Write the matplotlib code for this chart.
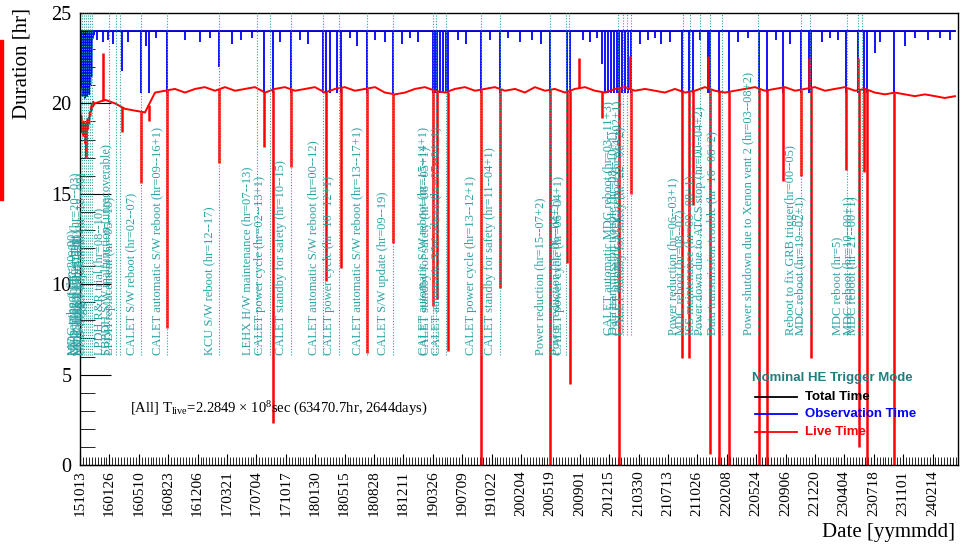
import datetime

import matplotlib.pyplot as plt
import numpy as np
from matplotlib.lines import Line2D
from matplotlib.patches import Rectangle
from matplotlib.transforms import offset_copy

plt.rcParams["font.family"] = "Liberation Serif"
plt.rcParams["mathtext.fontset"] = "custom"
plt.rcParams["mathtext.rm"] = "Liberation Serif"
plt.rcParams["mathtext.it"] = "Liberation Serif:italic"

TICK_STEP = 105  # days between date labels
LAST_DAY = 3125

tick_labels = ["151013", "160126", "160510", "160823", "161206", "170321",
               "170704", "171017", "180130", "180515", "180828", "181211",
               "190326", "190709", "191022", "200204", "200519", "200901",
               "201215", "210330", "210713", "211026", "220208", "220524",
               "220906", "221220", "230404", "230718", "231101", "240214"]

# commissioning period (day offsets from 151013)
init_days = [0, 1, 3, 5, 7, 9, 11, 13, 15, 17, 19, 21, 23, 25, 27, 29, 31, 33,
             35, 37, 39, 41, 43, 45, 47, 49, 51, 53]
init_total = [24, 24, 24, 21.0, 24, 20.8, 24, 21.2, 24, 20.6, 24, 21.0, 24,
              20.7, 24, 21.3, 24, 20.9, 24, 21.5, 24, 24, 24, 24, 24, 24, 24, 24]
init_obs = [24, 21.2, 24, 21.0, 23.8, 20.4, 23.9, 20.6, 23.7, 20.3, 23.6, 20.5,
            23.8, 20.4, 23.9, 20.6, 24, 20.5, 23.8, 21.0, 23.9, 21.5, 24, 23.6,
            24, 23.8, 24, 24]
init_live = [22.7, 19.8, 18.6, 19.3, 18.4, 18.9, 18.2, 19.0, 18.5, 18.8, 17.8,
             18.9, 17.0, 18.7, 19.1, 18.6, 19.2, 18.9, 19.5, 19.3, 19.8, 19.6,
             20.0, 19.8, 20.1, 19.9, 20.0, 20.0]

# live time baseline after commissioning
live_days = [54, 89, 125, 161, 196, 232, 268, 304, 339, 375, 411, 446, 482,
             518, 554, 589, 625, 661, 696, 732, 768, 804, 839, 875, 911, 946,
             982, 1018, 1054, 1089, 1125, 1161, 1196, 1232, 1268, 1304, 1339,
             1375, 1411, 1446, 1482, 1518, 1554, 1589, 1625, 1661, 1696, 1732,
             1768, 1804, 1839, 1875, 1911, 1946, 1982, 2018, 2054, 2089, 2125,
             2161, 2196, 2232, 2268, 2304, 2339, 2375, 2411, 2446, 2482, 2518,
             2554, 2589, 2625, 2661, 2696, 2732, 2768, 2804, 2839, 2875, 2911,
             2946, 2982, 3018, 3054, 3089, 3125]
live_base = [20.0, 20.2, 20.0, 19.7, 19.6, 19.5, 20.6, 20.7, 20.8, 20.6, 20.8,
             20.9, 20.7, 20.9, 20.7, 20.8, 20.9, 20.6, 20.8, 20.9, 20.7, 20.8,
             20.9, 20.6, 20.8, 20.9, 20.7, 20.8, 20.9, 20.6, 20.5, 20.6, 20.8,
             20.9, 20.7, 20.6, 20.8, 20.9, 20.7, 20.8, 20.9, 20.7, 20.8, 20.6,
             20.9, 20.7, 20.8, 20.6, 20.8, 20.9, 20.7, 20.6, 20.8, 20.9, 20.7,
             20.8, 20.7, 20.6, 20.8, 20.6, 20.7, 20.9, 20.7, 20.6, 20.7, 20.8,
             20.9, 20.7, 20.8, 20.9, 20.7, 20.8, 20.9, 20.7, 20.8, 20.9, 20.7,
             20.8, 20.6, 20.5, 20.6, 20.5, 20.4, 20.5, 20.4, 20.3, 20.4]

# single-day excursions of live time
live_dip_days = [82, 150, 218, 246, 311, 496, 657, 689, 754, 879, 932, 1025,
                 1118, 1261, 1275, 1314, 1432, 1500, 1679, 1739, 1750, 1782,
                 1864, 1925, 1964, 1968, 2150, 2175, 2189, 2243, 2250, 2282,
                 2318, 2425, 2454, 2511, 2575, 2604, 2611, 2736, 2779, 2782,
                 2800, 2811, 2907]
live_dip_vals = [22.8, 18.4, 15.6, 19.0, 7.6, 16.7, 17.6, 2.3, 16.5, 10.2,
                 10.9, 6.2, 12.3, 8.8, 9.2, 6.3, 0.0, 9.8, 0.0, 11.2, 4.5, 22.5,
                 19.2, 0.0, 22.6, 15.0, 5.9, 5.9, 14.4, 22.6, 0.6, 0.0, 0.0,
                 0.0, 0.0, 15.7, 16.0, 22.5, 5.9, 16.3, 22.5, 1.0, 16.2, 0.0,
                 0.0]

# single-day drops of observation time
obs_dip_days = [61, 82, 100, 118, 150, 171, 218, 236, 246, 271, 311, 375, 429,
                464, 496, 543, 575, 614, 657, 689, 714, 754, 786, 814, 868, 879,
                893, 918, 932, 964, 989, 1025, 1054, 1089, 1118, 1150, 1179,
                1207, 1261, 1268, 1275, 1286, 1296, 1307, 1314, 1350, 1379,
                1432, 1464, 1500, 1529, 1571, 1614, 1646, 1679, 1739, 1750,
                1796, 1821, 1846, 1864, 1875, 1886, 1896, 1907, 1918, 1925,
                1936, 1946, 1957, 1968, 2000, 2029, 2054, 2075, 2107, 2150,
                2175, 2189, 2214, 2243, 2250, 2282, 2318, 2350, 2386, 2425,
                2454, 2486, 2511, 2536, 2575, 2604, 2611, 2650, 2679, 2707,
                2736, 2779, 2800, 2811, 2839, 2857, 2907, 2946, 2982, 3029,
                3071, 3107]
obs_dip_vals = [23.5, 23.4, 23.5, 23.3, 21.8, 23.4, 20.6, 23.2, 20.6, 23.6,
                20.6, 23.5, 23.4, 23.6, 22.0, 23.3, 23.5, 23.6, 20.6, 20.6,
                23.4, 20.6, 23.5, 23.3, 20.6, 20.6, 20.6, 20.6, 20.6, 23.6,
                23.2, 20.6, 23.5, 23.4, 20.6, 23.3, 23.6, 23.4, 20.6, 20.6,
                20.6, 20.6, 20.6, 20.6, 20.6, 23.5, 23.3, 20.6, 23.5, 20.6,
                23.6, 23.4, 23.5, 23.3, 20.6, 20.6, 20.6, 23.5, 23.4, 23.6,
                22.2, 20.6, 20.6, 20.6, 20.6, 20.6, 20.6, 20.6, 20.6, 20.6,
                20.6, 23.3, 23.5, 23.6, 23.3, 23.4, 20.6, 20.6, 20.6, 23.5,
                20.6, 20.6, 20.6, 20.6, 23.4, 23.6, 20.6, 20.6, 23.5, 20.6,
                23.3, 20.6, 20.6, 20.6, 23.4, 23.6, 23.5, 20.6, 20.6, 20.6,
                20.6, 22.8, 23.4, 20.6, 23.2, 23.6, 23.5, 23.6, 23.5]

# operation log
event_days = [7, 14, 21, 29, 36, 43, 104, 129, 143, 218, 311, 496, 632, 679,
              754, 868, 925, 1025, 1118, 1261, 1271, 1307, 1432, 1500, 1679,
              1736, 1746, 1921, 1939, 1954, 1968, 2154, 2179, 2214, 2250, 2293,
              2421, 2575, 2607, 2739, 2779, 2793]
event_labels = [
    "MDC reboot (hr=20--00)",
    "HV setting (hr=22--00)",
    "CHD trigger adjustment (hr=20--03)",
    "MDC reboot (hr=21--00)",
    "HV setting (hr=20--03)",
    "CHD trigger adjustment (hr=18--00)",
    "LPDH R&R trial (hr=08--10)",
    "SBPDH S/W malfunction (unrecoverable)",
    "LPDH replacement (hr=05--10)",
    "CALET S/W reboot (hr=02--07)",
    "CALET automatic S/W reboot (hr=09--16+1)",
    "KCU S/W reboot (hr=12--17)",
    "LEHX H/W maintenance (hr=07--13)",
    "CALET power cycle (hr=02--13+1)",
    "CALET standby for safety (hr=10--15)",
    "CALET automatic S/W reboot (hr=00--12)",
    "CALET power cycle (hr=10--12+1)",
    "CALET automatic S/W reboot (hr=13--17+1)",
    "CALET S/W update (hr=09--19)",
    "CALET automatic S/W reboot (hr=15--14+1)",
    "CALET standby for safety (hr=08--05+1)",
    "CALET automatic S/W reboot (hr=07--04+1)",
    "CALET power cycle (hr=13--12+1)",
    "CALET standby for safety (hr=11--04+1)",
    "Power reduction (hr=15--07+2)",
    "Power reduction (hr=06--04+1)",
    "CALET power cycle (hr=06--04+1)",
    "CALET automatic MDC reboot (hr=03--11+3)",
    "Data transmission trouble (hr=08--10+1)",
    "CALET automatic MDC reboot (hr=14--02+1)",
    "CALET standby for safety (hr=22--06+2)",
    "Power reduction (hr=06--03+1)",
    "MDC reboot (hr=08--07)",
    "ISS maintenance (hr=00--08+1)",
    "Power down due to ATCS stop (hr=00--04+2)",
    "Data transmission trouble (hr=16--06+2)",
    "Power shutdown due to Xenon vent 2 (hr=03--08+2)",
    "Reboot to fix GRB trigger(hr=00--05)",
    "MDC reboot (hr=19--02+1)",
    "MDC reboot (hr=5)",
    "MDC reboot (hr=10--00+1)",
    "MDC reboot (hr=21--00+1)",
]

TEAL = "#2aa3a3"

fig = plt.figure(figsize=(9.61, 5.48), dpi=100)
ax = fig.add_axes([80 / 961, 83 / 548, 878 / 961, 452 / 548])

# total time (black), observation time (blue), live time (red)
ax.plot(init_days + [54, LAST_DAY], init_total + [24, 24], color="black", lw=1.2)
ax.plot(init_days + [54, LAST_DAY], init_obs + [24, 24], color="blue", lw=1.2)
ax.vlines(obs_dip_days, obs_dip_vals, 24, color="blue", lw=1.3)

all_live_days = init_days + live_days
all_live = init_live + live_base
ax.plot(all_live_days, all_live, color="red", lw=1.4)
dip_top = np.interp(live_dip_days, all_live_days, all_live)
ax.vlines(live_dip_days, live_dip_vals, dip_top, color="red", lw=1.8)

# annotations
text_tr = offset_copy(ax.transData, fig=fig, x=-4, y=0, units="dots")
for d, lab in zip(event_days, event_labels):
    base = 6.1 if d < 1850 else 7.2
    ax.vlines(d, base, 25, color=TEAL, lw=0.8, linestyles=(0, (1, 1.5)), zorder=4)
    ax.text(d, base, lab, rotation=90, ha="right", va="bottom", color=TEAL,
            fontsize=9, transform=text_tr, zorder=5)

ax.text(179, 3.1, r"[All] T$_{\rm live}$=2.2849 $\times$ 10$^{8}$sec (63470.7hr, 2644days)",
        fontsize=10.5, va="center")

# axes
ax.set_xlim(0, 3136)
ax.set_ylim(0, 25)
tick_days = np.arange(len(tick_labels)) * TICK_STEP
ax.set_xticks(tick_days)
ax.set_xticklabels(tick_labels, rotation=90, fontsize=11)
ax.set_xticks(np.arange(0, 3136, TICK_STEP / 10), minor=True)
ax.set_yticks(np.arange(0, 26, 5))
ax.set_yticks(np.arange(0, 26, 1), minor=True)
ax.tick_params(axis="y", which="major", direction="in", length=22, labelsize=14.5, pad=6)
ax.tick_params(axis="y", which="minor", direction="in", length=11)
ax.tick_params(axis="x", which="major", direction="in", length=8, pad=4)
ax.tick_params(axis="x", which="minor", direction="in", length=6)
for sp in ax.spines.values():
    sp.set_linewidth(1.0)

fig.text(22 / 961, 1 - 8 / 548, "Duration [hr]", rotation=90, ha="center", va="top",
         fontsize=15)
fig.text(955 / 961, 1 - 532 / 548, "Date [yymmdd]", ha="right", va="center", fontsize=15)
fig.patches.append(Rectangle((0, 1 - 200 / 548), 3 / 961, 160 / 548, color="red",
                             transform=fig.transFigure, figure=fig))

# legend
fig.text(752 / 961, 1 - 378 / 548, "Nominal HE Trigger Mode", color="#1f7f7f",
         family="Liberation Sans", weight="bold", fontsize=9.5, va="center")
leg_items = [("Total Time", "black", 397), ("Observation Time", "blue", 414),
             ("Live Time", "red", 432)]
for lab, col, py in leg_items:
    fig.lines.append(Line2D([755 / 961, 797 / 961], [1 - py / 548] * 2, color=col,
                            lw=1.3, transform=fig.transFigure))
    fig.text(805 / 961, 1 - py / 548, lab, color=col, family="Liberation Sans",
             weight="bold", fontsize=9.5, va="center")

fig.savefig("out.png", dpi=100)
